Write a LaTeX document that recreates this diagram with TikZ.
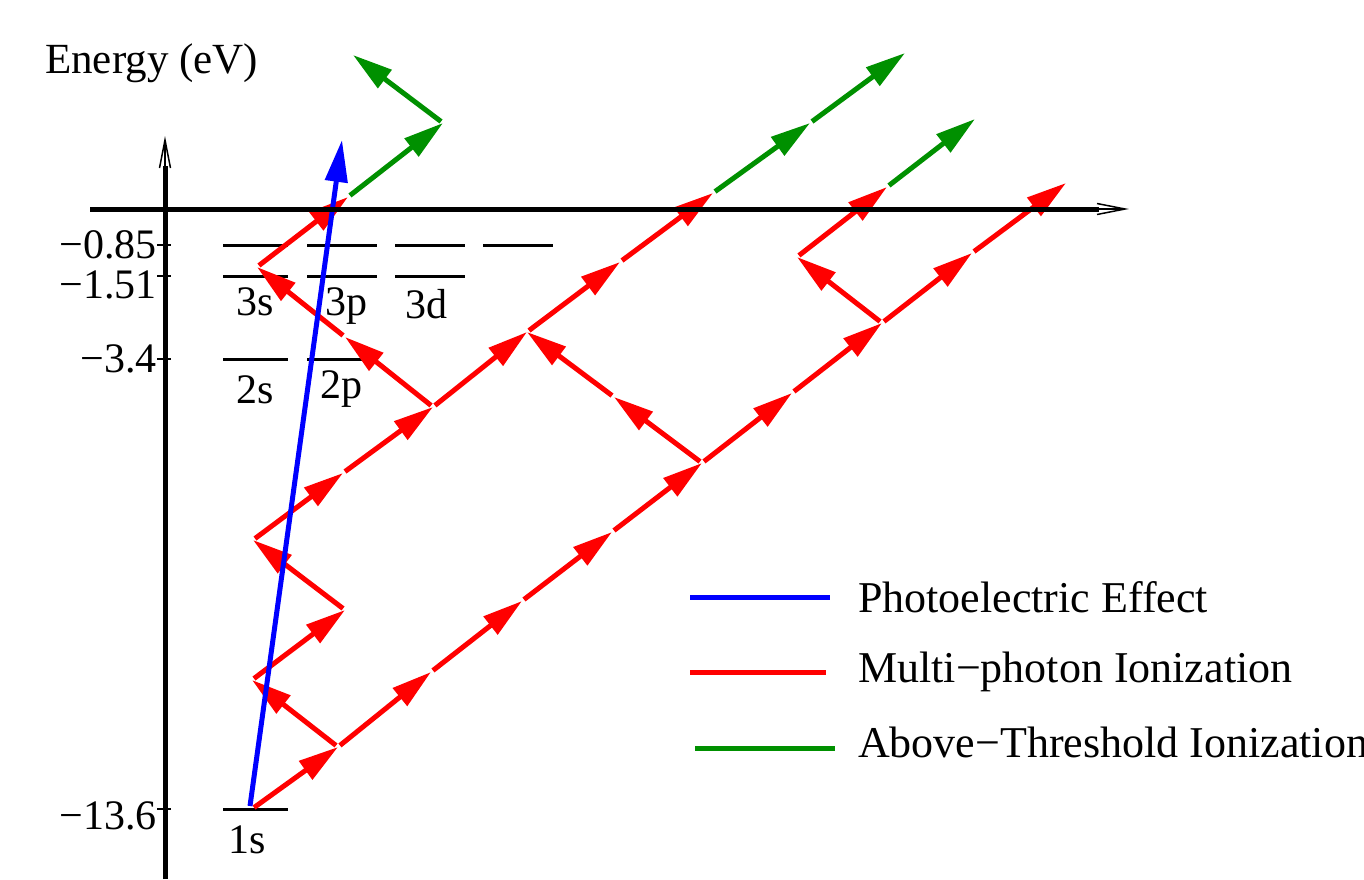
\documentclass[tikz,border=0pt]{standalone}
\usepackage{fontspec}
\setmainfont{Liberation Serif}
\usetikzlibrary{arrows.meta}
\definecolor{xgreen}{RGB}{0,144,0}
\definecolor{xred}{RGB}{255,0,0}
\definecolor{xblue}{RGB}{0,0,255}
\begin{document}
\begin{tikzpicture}[x=1pt,y=-1pt,
  lbl/.style={font=\fontsize{42}{50}\selectfont, inner sep=0pt},
  leg/.style={font=\fontsize{44}{52}\selectfont, inner sep=0pt, anchor=base west},
  lvl/.style={line width=3pt},
  ph/.style={line width=5pt, -{Triangle[length=40pt,width=22pt]}, shorten <=2.5pt},
  rph/.style={ph, xred},
  gph/.style={ph, xgreen},
  axis/.style={line width=5pt},
  thin/.style={line width=1.5pt},
  legline/.style={line width=5pt},
]
\useasboundingbox (0,0) rectangle (1364,879);

% energy levels
\foreach \y in {245,276} {
  \draw[lvl] (223,\y) -- (288,\y);
  \draw[lvl] (307,\y) -- (377,\y);
  \draw[lvl] (395,\y) -- (465,\y);
}
\draw[lvl] (483,245) -- (553,245);
\draw[lvl] (223,359) -- (288,359);
\draw[lvl] (307,359) -- (377,359);
\draw[lvl] (223,809) -- (288,809);

% lattice points
\coordinate (p0) at (252,809);
\coordinate (a1) at (338,747);
\coordinate (a2) at (431,672);
\coordinate (a3) at (522,601);
\coordinate (a4) at (612,532);
\coordinate (a5) at (702,463);
\coordinate (a6) at (792,393);
\coordinate (a7) at (882,323);
\coordinate (a8) at (972,253);
\coordinate (a9) at (1066,183);
\coordinate (z1) at (252,680);
\coordinate (z2) at (345,610);
\coordinate (z3) at (253,540);
\coordinate (z4) at (343,473);
\coordinate (z5) at (433,407);
\coordinate (z6) at (345,337);
\coordinate (z7) at (257,267);
\coordinate (z8) at (348,197);
\coordinate (b1) at (527,332);
\coordinate (b2) at (620,262);
\coordinate (b3) at (713,193);
\coordinate (c1) at (614,397);
\coordinate (d1) at (797,257);
\coordinate (d2) at (887,187);
\coordinate (g1) at (443,123);
\coordinate (g2) at (353,55);
\coordinate (g3) at (810,123);
\coordinate (g4) at (905,53);
\coordinate (g5) at (975,119);

% multi-photon (red)
\draw[rph] (p0) -- (a1);
\draw[rph] (a1) -- (a2);
\draw[rph] (a2) -- (a3);
\draw[rph] (a3) -- (a4);
\draw[rph] (a4) -- (a5);
\draw[rph] (a5) -- (a6);
\draw[rph] (a6) -- (a7);
\draw[rph] (a7) -- (a8);
\draw[rph] (a8) -- (a9);
\draw[rph] (a1) -- (z1);
\draw[rph] (z1) -- (z2);
\draw[rph] (z2) -- (z3);
\draw[rph] (z3) -- (z4);
\draw[rph] (z4) -- (z5);
\draw[rph] (z5) -- (z6);
\draw[rph] (z6) -- (z7);
\draw[rph] (z7) -- (z8);
\draw[rph] (z5) -- (b1);
\draw[rph] (b1) -- (b2);
\draw[rph] (b2) -- (b3);
\draw[rph] (a5) -- (c1);
\draw[rph] (c1) -- (b1);
\draw[rph] (a7) -- (d1);
\draw[rph] (d1) -- (d2);

% above-threshold (green)
\draw[gph] (z8) -- (g1);
\draw[gph] (g1) -- (g2);
\draw[gph] (b3) -- (g3);
\draw[gph] (g3) -- (g4);
\draw[gph] (d2) -- (g5);

% photoelectric (blue)
\coordinate (bl0) at (250,806);
\coordinate (bl1) at (342,140);
\draw[line width=5pt, xblue, -{Triangle[length=42pt,width=22pt]}] (bl0) -- (bl1);

% axes
\coordinate (ya) at (165,879);
\coordinate (yb) at (165,166);
\coordinate (yt) at (165,140);
\coordinate (xa) at (90,209);
\coordinate (xb) at (1099,209);
\coordinate (xt) at (1125,209);
\draw[axis] (ya) -- (yb);
\draw[thin] (yb) -- (yt);
\draw[thin] (159.5,168) -- (yt) -- (170.5,168);
\draw[axis] (xa) -- (xb);
\draw[thin] (xb) -- (xt);
\draw[thin] (1097,203.5) -- (xt) -- (1097,214.5);

% ticks
\foreach \y in {245,276,359,809} {
  \draw[thin] (157,\y) -- (171,\y);
}

% tick labels
\node[lbl, anchor=base east] (t1) at (157,258) {−0.85};
\node[lbl, anchor=base east] (t2) at (157,298) {−1.51};
\node[lbl, anchor=base east] (t3) at (157,372) {−3.4};
\node[lbl, anchor=base east] (t4) at (157,829) {−13.6};

% axis title
\node[lbl, anchor=base west, font=\fontsize{43}{50}\selectfont] (ttl) at (45,73) {Energy (eV)};

% level labels
\node[lbl, anchor=base] (l3s) at (255,315) {3s};
\node[lbl, anchor=base] (l3p) at (346,315) {3p};
\node[lbl, anchor=base] (l3d) at (426,318) {3d};
\node[lbl, anchor=base] (l2s) at (255,403) {2s};
\node[lbl, anchor=base] (l2p) at (341,398) {2p};
\node[lbl, anchor=base] (l1s) at (247,853) {1s};

% legend
\coordinate (lb1) at (690,597); \coordinate (lb2) at (830,597);
\coordinate (lr1) at (690,672); \coordinate (lr2) at (826,672);
\coordinate (lg1) at (695,748); \coordinate (lg2) at (835,748);
\draw[legline, xblue] (lb1) -- (lb2);
\draw[legline, xred] (lr1) -- (lr2);
\draw[legline, xgreen] (lg1) -- (lg2);
\node[leg] (e1) at (858,612) {Photoelectric Effect};
\node[leg] (e2) at (858,682) {Multi−photon Ionization};
\node[leg] (e3) at (858,757) {Above−Threshold Ionization};
\end{tikzpicture}
\end{document}
